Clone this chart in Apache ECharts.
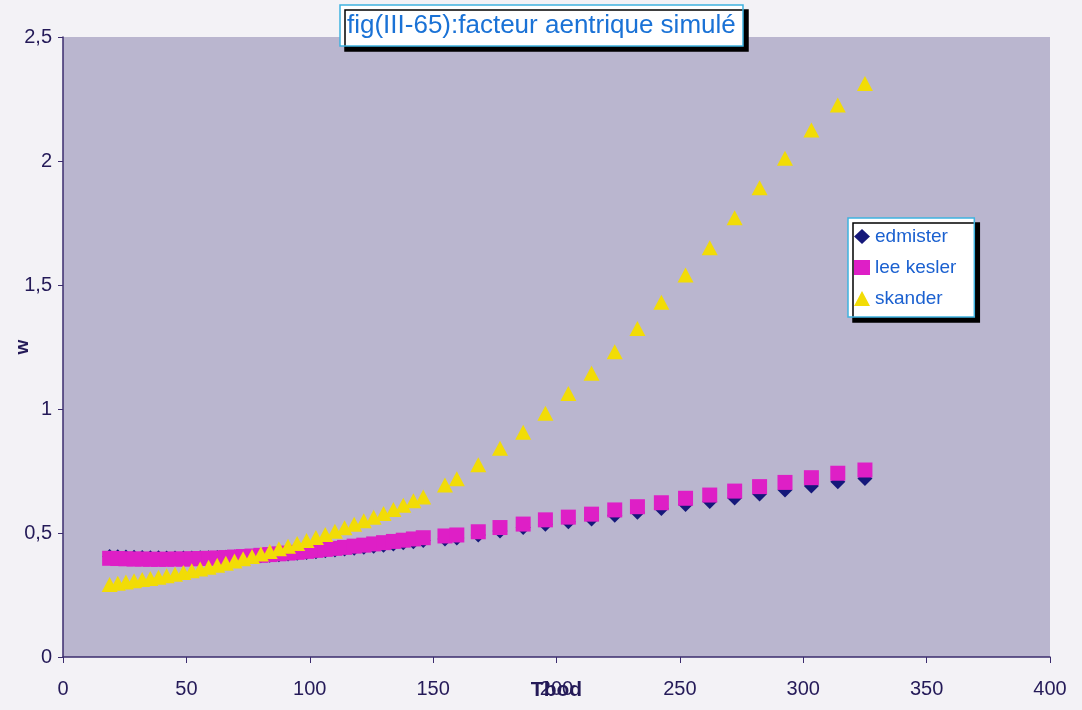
<!DOCTYPE html>
<html>
<head>
<meta charset="utf-8">
<title>facteur aentrique simulé</title>
<script src="https://cdn.jsdelivr.net/npm/echarts@6/dist/echarts.min.js"></script>
<style>
  html, body { margin: 0; padding: 0; background: #f3f2f6; }
  #chart { width: 1082px; height: 710px; }
</style>
</head>
<body>
<div id="chart"></div>
<script>
// Tb (x) values, shared by the three series
var tb = [18.9, 22.2, 25.5, 28.8, 32.1, 35.4, 38.7, 42.0, 45.4, 48.8,
          52.2, 55.6, 59.0, 62.5, 66.0, 69.5, 73.0, 76.6, 80.2, 83.8,
          87.5, 91.2, 94.9, 98.7, 102.5, 106.3, 110.2, 114.1, 118.0, 121.9,
          125.9, 129.9, 133.9, 137.9, 142.0, 146.0,
          154.8, 159.6, 168.3, 177.1, 186.5, 195.5, 204.8, 214.2, 223.6, 232.8,
          242.5, 252.3, 262.1, 272.2, 282.3, 292.6, 303.3, 314.0, 325.0];

var edmister = [0.405, 0.404, 0.403, 0.402, 0.401, 0.400, 0.400, 0.399, 0.399, 0.399,
                0.399, 0.400, 0.400, 0.401, 0.402, 0.403, 0.404, 0.406, 0.408, 0.410,
                0.412, 0.415, 0.418, 0.421, 0.424, 0.428, 0.431, 0.435, 0.439, 0.443,
                0.447, 0.451, 0.456, 0.461, 0.465, 0.470,
                0.476, 0.480, 0.492, 0.508, 0.522, 0.535, 0.545, 0.556, 0.572, 0.584,
                0.599, 0.615, 0.627, 0.641, 0.657, 0.673, 0.690, 0.707, 0.720];

var leeKesler = [0.398, 0.397, 0.396, 0.395, 0.395, 0.394, 0.394, 0.394, 0.395, 0.395,
                 0.396, 0.397, 0.398, 0.399, 0.401, 0.403, 0.405, 0.407, 0.410, 0.413,
                 0.416, 0.419, 0.422, 0.426, 0.430, 0.434, 0.438, 0.442, 0.447, 0.451,
                 0.456, 0.461, 0.466, 0.471, 0.476, 0.481,
                 0.488, 0.492, 0.505, 0.522, 0.536, 0.553, 0.564, 0.576, 0.593, 0.606,
                 0.622, 0.640, 0.653, 0.669, 0.687, 0.704, 0.723, 0.741, 0.754];

var skander = [0.292, 0.297, 0.302, 0.307, 0.312, 0.317, 0.322, 0.328, 0.334, 0.341,
               0.348, 0.355, 0.362, 0.370, 0.378, 0.387, 0.396, 0.405, 0.415, 0.425,
               0.436, 0.447, 0.458, 0.470, 0.482, 0.494, 0.507, 0.521, 0.535, 0.549,
               0.564, 0.579, 0.595, 0.612, 0.630, 0.645,
               0.694, 0.719, 0.775, 0.842, 0.906, 0.983, 1.063, 1.144, 1.231, 1.325,
               1.430, 1.540, 1.650, 1.771, 1.892, 2.011, 2.125, 2.226, 2.313];

var xTicks = [0, 50, 100, 150, 200, 250, 300, 350, 400];
var yTicks = [0, 0.5, 1, 1.5, 2, 2.5];

function pairs(ys) {
    var out = [];
    for (var i = 0; i < tb.length; i++) out.push([tb[i], ys[i]]);
    return out;
}

var font = 'Liberation Sans, Arial, sans-serif';
var inkColor = '#241a58';

var myChart = echarts.init(document.getElementById('chart'));
var option = {
    backgroundColor: '#f3f2f6',
    animation: false,
    title: {
        text: 'fig(III-65):facteur aentrique simulé',
        left: 340,
        top: 5,
        padding: [8, 8, 7, 7],
        backgroundColor: '#ffffff',
        borderColor: '#3fb2e0',
        borderWidth: 1.5,
        shadowColor: '#000000',
        shadowOffsetX: 5,
        shadowOffsetY: 5,
        shadowBlur: 0,
        textStyle: {
            color: '#1a72d6',
            fontSize: 26,
            fontWeight: 'normal',
            fontFamily: font
        }
    },
    legend: {
        orient: 'vertical',
        left: 848,
        top: 218,
        padding: [9, 18, 9, 6],
        itemGap: 12,
        itemWidth: 16,
        itemHeight: 15,
        backgroundColor: '#ffffff',
        borderColor: '#3fb2e0',
        borderWidth: 1.5,
        shadowColor: '#000000',
        shadowOffsetX: 5,
        shadowOffsetY: 5,
        shadowBlur: 0,
        textStyle: { color: '#1a60d0', fontSize: 19, fontFamily: font },
        data: [
            { name: 'edmister', icon: 'diamond' },
            { name: 'lee kesler', icon: 'rect' },
            { name: 'skander', icon: 'triangle' }
        ]
    },
    grid: {
        left: 63,
        right: 32,
        top: 37,
        bottom: 53,
        containLabel: false,
        outerBoundsMode: 'none',
        show: true,
        backgroundColor: '#bab6cf',
        borderWidth: 0
    },
    xAxis: {
        type: 'value',
        min: xTicks[0],
        max: xTicks[xTicks.length - 1],
        interval: 50,
        name: 'Tbod',
        nameLocation: 'middle',
        nameGap: 23,
        nameMoveOverlap: false,
        nameTextStyle: { color: inkColor, fontSize: 21, fontWeight: 'bold', fontFamily: font, verticalAlign: 'top' },
        axisLine: { lineStyle: { color: '#3b2c6e', width: 1.5 } },
        axisTick: { show: true, length: 6, lineStyle: { color: '#3b2c6e' } },
        axisLabel: { color: inkColor, fontSize: 20, fontFamily: font, margin: 22 },
        splitLine: { show: false }
    },
    yAxis: {
        type: 'value',
        min: yTicks[0],
        max: yTicks[yTicks.length - 1],
        interval: 0.5,
        name: 'w',
        nameLocation: 'middle',
        nameRotate: 90,
        nameGap: 31,
        nameMoveOverlap: false,
        nameTextStyle: { color: inkColor, fontSize: 19, fontWeight: 'bold', fontFamily: font },
        axisLine: { show: true, lineStyle: { color: '#3b2c6e', width: 1.5 } },
        axisTick: { show: true, length: 5, lineStyle: { color: '#3b2c6e' } },
        axisLabel: {
            color: inkColor, fontSize: 20, fontFamily: font, margin: 11,
            formatter: function (v) { return String(v).replace('.', ','); }
        },
        splitLine: { show: false }
    },
    series: [{
        name: 'edmister',
        type: 'scatter',
        symbol: 'diamond',
        symbolSize: [15, 15],
        itemStyle: { color: '#15187a', opacity: 1 },
        data: pairs(edmister)
    }, {
        name: 'lee kesler',
        type: 'scatter',
        symbol: 'rect',
        symbolSize: [15, 15],
        itemStyle: { color: '#de1fc6', opacity: 1 },
        data: pairs(leeKesler)
    }, {
        name: 'skander',
        type: 'scatter',
        symbol: 'triangle',
        symbolSize: [16, 15],
        itemStyle: { color: '#f2dc06', opacity: 1 },
        data: pairs(skander)
    }]
};

myChart.setOption(option);
</script>
</body>
</html>
